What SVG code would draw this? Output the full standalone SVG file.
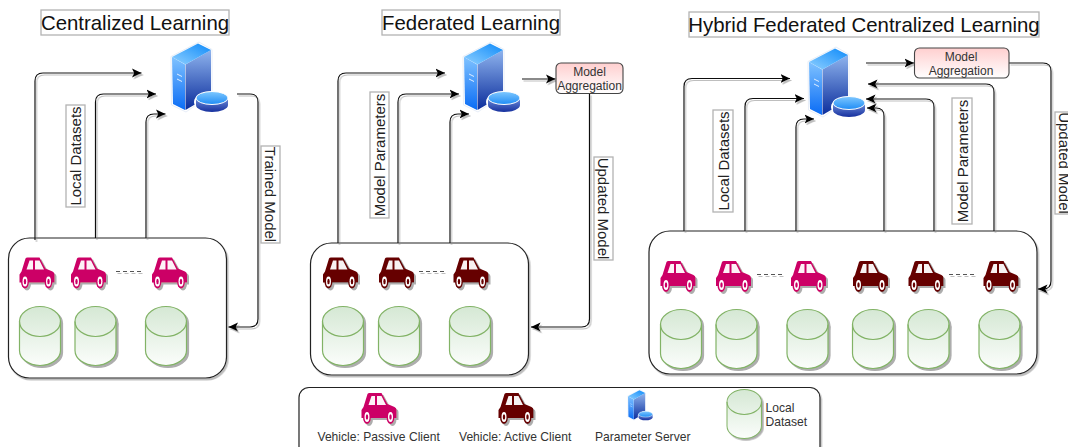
<svg xmlns="http://www.w3.org/2000/svg" xmlns:xlink="http://www.w3.org/1999/xlink" width="1068" height="447" viewBox="0 0 1068 447">
<style>
text{font-family:"Liberation Sans",Arial,sans-serif}
.title{font-size:20.4px;fill:#111;text-anchor:middle}
.tbox{fill:#fff;stroke:#b3b3b3;stroke-width:1.3}
.lab{font-size:15px;fill:#222;text-anchor:middle}
.agg{font-size:12px;fill:#333;text-anchor:middle}
.leg{font-size:12.1px;fill:#333}
.panel{fill:#fff;stroke:#222;stroke-width:1.2;filter:url(#ls)}
.conn path{fill:none;stroke:#111;stroke-width:1.2;marker-end:url(#arr);filter:url(#ls)}
.dots{stroke:#555;stroke-width:1;stroke-dasharray:4 3;filter:url(#ls)}
.aggbox{fill:url(#ga);stroke:#444;stroke-width:1.1}
</style>
<defs>
<filter id="ls" filterUnits="userSpaceOnUse" x="0" y="0" width="1068" height="480"><feDropShadow dx="1.5" dy="2" stdDeviation="0.3" flood-color="#888" flood-opacity=".55"/></filter>
<filter id="ss" x="-20%" y="-20%" width="140%" height="140%"><feDropShadow dx="2" dy="2" stdDeviation="0.6" flood-color="#777" flood-opacity=".6"/></filter>
<marker id="arr" markerUnits="userSpaceOnUse" markerWidth="11" markerHeight="10" refX="9.500" refY="5" orient="auto"><path d="M0 0.500L9.500 5L0 9.500L2.200 5Z" fill="#000" stroke="none"/></marker>
<linearGradient id="ga" x1="0" y1="0" x2="0" y2="1"><stop offset="0" stop-color="#ffcfcf"/><stop offset="1" stop-color="#fff"/></linearGradient>
<linearGradient id="gc" x1="0" y1="0" x2="0" y2="1"><stop offset="0" stop-color="#d5e8d4"/><stop offset="1" stop-color="#fbfdfb"/></linearGradient>
<linearGradient id="gf" x1="0" y1="0" x2="0" y2="1"><stop offset="0" stop-color="#8fb4ee"/><stop offset="1" stop-color="#0b2d9c"/></linearGradient>
<linearGradient id="gl" x1="0" y1="0" x2="0" y2="1"><stop offset="0" stop-color="#7fc2ff"/><stop offset="1" stop-color="#0a6cf5"/></linearGradient>
<linearGradient id="gt" x1="0" y1="1" x2="1" y2="0"><stop offset="0" stop-color="#8fd0ff"/><stop offset="1" stop-color="#0f8bfa"/></linearGradient>
<linearGradient id="gd" x1="0" y1="0" x2="0" y2="1"><stop offset="0" stop-color="#7fc8ff"/><stop offset="1" stop-color="#1f8cf5"/></linearGradient>
<linearGradient id="gb" x1="0" y1="0" x2="0" y2="1"><stop offset="0" stop-color="#6f8fdc"/><stop offset="1" stop-color="#16309e"/></linearGradient>
<g id="car" style="filter:url(#ss)">
<path d="M0 25V17L2 14L6 1Q6.500 0 8 0H20L26 11L33 14Q35 15 35 17V25Z"/>
<ellipse cx="5.500" cy="24" rx="4" ry="7"/><ellipse cx="29" cy="24" rx="4" ry="7"/>
<path d="M7 12L10 3H13.500V12ZM15.500 3H20L24.500 12H15.500Z" fill="#fff" opacity=".95"/>
<ellipse cx="5.500" cy="24" rx="2.500" ry="5" fill="#fff"/><ellipse cx="29" cy="24" rx="2.500" ry="5" fill="#fff"/>
<ellipse cx="5.500" cy="24" rx="1.200" ry="2.800"/><ellipse cx="29" cy="24" rx="1.200" ry="2.800"/>
</g>
<g id="cyl" style="filter:url(#ss)">
<path d="M0 15A20.500 15 0 0 1 41 15V44A20.500 15 0 0 1 0 44Z" fill="url(#gc)" stroke="#82b366" stroke-width="1.200"/>
<path d="M0 15A20.500 15 0 0 0 41 15" fill="none" stroke="#82b366" stroke-width="1.200"/>
</g>
<g id="srv">
<path d="M-1 13.500L27 -1L40 6.500V55L24 62L14 69L-0.500 62Z" fill="#fff" stroke="#e8eef8" stroke-width="1"/>
<path d="M0 14L13 21.500V67L1 61Z" fill="url(#gl)"/>
<path d="M13.500 21.500L39 7V52L13.500 67Z" fill="url(#gf)"/>
<path d="M0 14L26 0.500L39 7L13.500 21.500Z" fill="url(#gt)"/>
<path d="M5 31L10 33.500M5 36L10 38.500" stroke="#dfeeff" stroke-width="1"/>
<ellipse cx="40" cy="59" rx="18" ry="10.500" fill="#fff"/>
<path d="M24 55V62A16 7 0 0 0 56 62V55Z" fill="url(#gb)"/>
<ellipse cx="40" cy="55" rx="16" ry="6.500" fill="url(#gd)" stroke="#fff" stroke-width="1"/>
</g>
</defs>
<rect width="1068" height="447" fill="#fff"/>

<g id="titles">
<g id="title-centralized"><rect class="tbox" x="41" y="10" width="188" height="25"/><text class="title" x="135" y="30">Centralized Learning</text></g>
<g id="title-federated"><rect class="tbox" x="382" y="10" width="178" height="25"/><text class="title" x="471" y="30">Federated Learning</text></g>
<g id="title-hybrid"><rect class="tbox" x="689" y="12" width="350" height="25"/><text class="title" x="864" y="32">Hybrid Federated Centralized Learning</text></g>
</g>

<g id="panel-centralized"><rect class="panel" x="8.500" y="238" width="218" height="140" rx="21"/></g>
<g id="panel-federated"><rect class="panel" x="310.500" y="243" width="218" height="132" rx="21"/></g>
<g id="panel-hybrid"><rect class="panel" x="649" y="231" width="388" height="143" rx="21"/></g>

<g id="connectors" class="conn">
<path d="M35 240V81Q35 73 43 73H141.500"/>
<path d="M95.500 238V102Q95.500 94 103.500 94H156"/>
<path d="M146 238V122Q146 114 154 114H165.500"/>
<path d="M237 94H250Q258 94 258 102V319Q258 327 250 327H228.500"/>
<path d="M338 243V81Q338 73 346 73H445"/>
<path d="M398 243V102Q398 94 406 94H459"/>
<path d="M450 243V122Q450 114 458 114H469"/>
<path d="M522 79H555.500"/>
<path d="M589.500 93.500V319Q589.500 327 581.500 327H531"/>
<path d="M684 231V86.500Q684 78.500 692 78.500H790"/>
<path d="M745 231V106.500Q745 98.500 753 98.500H804"/>
<path d="M796 231V127Q796 119 804 119H814"/>
<path d="M884 231V116Q884 108 876 108H867"/>
<path d="M934 231V107Q934 99 926 99H866"/>
<path d="M994 231V92Q994 84 986 84H868"/>
<path d="M866 63H914"/>
<path d="M1009 63H1043Q1051 63 1051 71V281Q1051 289 1043 289H1038"/>
</g>

<g id="server-centralized"><use xlink:href="#srv" href="#srv" x="172" y="43"/></g>
<g id="server-federated"><use xlink:href="#srv" href="#srv" x="464" y="43"/></g>
<g id="server-hybrid"><use xlink:href="#srv" href="#srv" x="809" y="48"/></g>

<g id="agg-federated"><rect class="aggbox" x="556" y="63" width="67" height="30.500" rx="5"/><text class="agg" x="589.500" y="76">Model</text><text class="agg" x="589.500" y="90">Aggregation</text></g>
<g id="agg-hybrid"><rect class="aggbox" x="914.500" y="48" width="94.500" height="30" rx="5"/><text class="agg" x="961" y="61">Model</text><text class="agg" x="961" y="75">Aggregation</text></g>

<g id="labels">
<g id="label-local-1"><rect class="tbox" x="66" y="105" width="19" height="102"/><text class="lab" transform="translate(81,156) rotate(-90)">Local Datasets</text></g>
<g id="label-trained"><rect class="tbox" x="261" y="146" width="19" height="97"/><text class="lab" transform="translate(265,194.500) rotate(90)">Trained Model</text></g>
<g id="label-params-2"><rect class="tbox" x="370" y="92" width="19" height="126"/><text class="lab" transform="translate(385,155) rotate(-90)">Model Parameters</text></g>
<g id="label-updated-2"><rect class="tbox" x="594" y="157" width="19" height="103"/><text class="lab" transform="translate(598,208.500) rotate(90)">Updated Model</text></g>
<g id="label-local-3"><rect class="tbox" x="713" y="110" width="20" height="102"/><text class="lab" transform="translate(729,161) rotate(-90)">Local Datasets</text></g>
<g id="label-params-3"><rect class="tbox" x="952" y="98" width="20" height="126"/><text class="lab" transform="translate(968,161) rotate(-90)">Model Parameters</text></g>
<g id="label-updated-3"><rect class="tbox" x="1055" y="112" width="20" height="102"/><text class="lab" transform="translate(1059,163) rotate(90)">Updated Model</text></g>
</g>

<g id="vehicles-centralized" fill="#cc0066">
<use xlink:href="#car" href="#car" x="19.500" y="257.500"/><use xlink:href="#car" href="#car" x="71" y="257.500"/><use xlink:href="#car" href="#car" x="152" y="257.500"/>
<line class="dots" x1="116" y1="271.500" x2="144" y2="271.500"/>
</g>
<g id="datasets-centralized">
<use xlink:href="#cyl" href="#cyl" x="19.500" y="306.500"/><use xlink:href="#cyl" href="#cyl" x="75" y="306.500"/><use xlink:href="#cyl" href="#cyl" x="145.500" y="306.500"/>
</g>

<g id="vehicles-federated" fill="#660000">
<use xlink:href="#car" href="#car" x="323" y="257.500"/><use xlink:href="#car" href="#car" x="379" y="257.500"/><use xlink:href="#car" href="#car" x="453.500" y="257.500"/>
<line class="dots" x1="419" y1="271.500" x2="447" y2="271.500"/>
</g>
<g id="datasets-federated">
<use xlink:href="#cyl" href="#cyl" x="322.500" y="306.500"/><use xlink:href="#cyl" href="#cyl" x="378.500" y="306.500"/><use xlink:href="#cyl" href="#cyl" x="449.500" y="306.500"/>
</g>

<g id="vehicles-hybrid-passive" fill="#cc0066">
<use xlink:href="#car" href="#car" x="660.500" y="261"/><use xlink:href="#car" href="#car" x="716" y="261"/><use xlink:href="#car" href="#car" x="791" y="261"/>
<line class="dots" x1="757" y1="274.500" x2="785" y2="274.500"/>
</g>
<g id="vehicles-hybrid-active" fill="#660000">
<use xlink:href="#car" href="#car" x="853" y="261"/><use xlink:href="#car" href="#car" x="908.500" y="261"/><use xlink:href="#car" href="#car" x="983.500" y="261"/>
<line class="dots" x1="949" y1="274.500" x2="977" y2="274.500"/>
</g>
<g id="datasets-hybrid">
<use xlink:href="#cyl" href="#cyl" x="660.500" y="309.500"/><use xlink:href="#cyl" href="#cyl" x="716" y="309.500"/><use xlink:href="#cyl" href="#cyl" x="787" y="309.500"/><use xlink:href="#cyl" href="#cyl" x="852.500" y="309.500"/><use xlink:href="#cyl" href="#cyl" x="908" y="309.500"/><use xlink:href="#cyl" href="#cyl" x="979" y="309.500"/>
</g>

<g id="legend">
<rect class="panel" x="299" y="387.500" width="521" height="75" rx="10"/>
<g id="legend-passive" fill="#cc0066"><use xlink:href="#car" href="#car" x="361.500" y="393"/><text class="leg" x="317.500" y="441">Vehicle: Passive Client</text></g>
<g id="legend-active" fill="#660000"><use xlink:href="#car" href="#car" x="498.500" y="393"/><text class="leg" x="459" y="441">Vehicle: Active Client</text></g>
<g id="legend-server"><use xlink:href="#srv" href="#srv" transform="translate(628 390) scale(.44)"/><text class="leg" x="595" y="440.500">Parameter Server</text></g>
<g id="legend-dataset"><use xlink:href="#cyl" href="#cyl" transform="translate(727 389.500) scale(.84 .83)"/><text class="leg" x="765.500" y="412">Local</text><text class="leg" x="765.500" y="426">Dataset</text></g>
</g>
</svg>
